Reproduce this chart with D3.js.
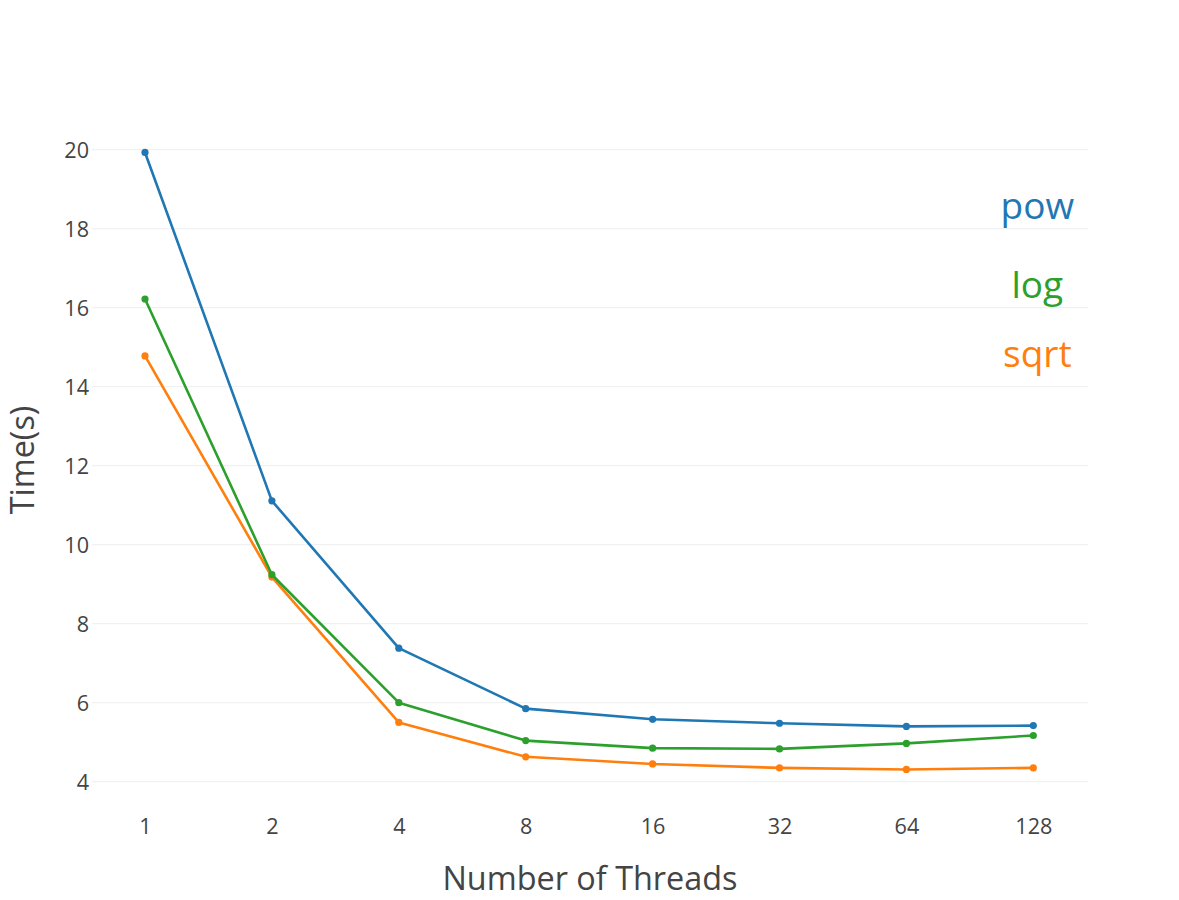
<!DOCTYPE html>
<html>
<head>
<meta charset="utf-8">
<script src="https://cdn.jsdelivr.net/npm/d3@7"></script>
<style>
  html, body { margin: 0; padding: 0; background: #fff; }
  svg { display: block; }
  text { font-family: "Open Sans", "DejaVu Sans", sans-serif; }
</style>
</head>
<body>
<svg id="chart" width="1179" height="900"></svg>
<script>
// ---- data ----
const threads = ["1", "2", "4", "8", "16", "32", "64", "128"];
const powTimes  = [19.93, 11.11, 7.38, 5.85, 5.58, 5.48, 5.40, 5.42];
const logTimes  = [16.22, 9.24, 6.00, 5.04, 4.85, 4.83, 4.97, 5.17];
const sqrtTimes = [14.78, 9.18, 5.50, 4.63, 4.45, 4.35, 4.31, 4.35];
const seriesNames = ["pow", "log", "sqrt"];
const yTicks = [4, 6, 8, 10, 12, 14, 16, 18, 20];
const xTitle = "Number of Threads";
const yTitle = "Time(s)";

// ---- layout ----
const colors = { pow: "#1f77b4", log: "#2ca02c", sqrt: "#ff7f0e" };
const plot = { left: 92, right: 1088 };
const labelY = { pow: 18.25, log: 16.24, sqrt: 14.5 }; // annotation baselines in data units

const svg = d3.select("#chart");
const x = d3.scalePoint().domain(threads).range([145, 1033.3]);
const y = d3.scaleLinear().domain([4, 20]).range([781.7, 149.7]);

// grid
svg.append("g").selectAll("line").data(yTicks).join("line")
  .attr("x1", plot.left).attr("x2", plot.right)
  .attr("y1", d => y(d)).attr("y2", d => y(d))
  .attr("stroke", "#eeeeee").attr("stroke-width", 1);

// y axis labels
const yAxis = d3.axisLeft(y).tickValues(yTicks).tickSize(0).tickPadding(0).tickFormat(d3.format("d"));
const gy = svg.append("g").attr("transform", `translate(89,0)`).call(yAxis);
gy.select(".domain").remove();
gy.selectAll("text").attr("fill", "#444").style("font-size", "21.6px")
  .style("font-family", '"Open Sans", sans-serif').attr("dy", "0.35em");

// x axis labels
const xAxis = d3.axisBottom(x).tickSize(0).tickPadding(0);
const gx = svg.append("g").attr("transform", `translate(0,834)`).call(xAxis);
gx.select(".domain").remove();
gx.selectAll("text").attr("fill", "#444").style("font-size", "21.6px")
  .style("font-family", '"Open Sans", sans-serif').attr("dy", "0").attr("y", 0);

// series
const series = [
  { name: "pow", values: powTimes },
  { name: "log", values: logTimes },
  { name: "sqrt", values: sqrtTimes }
];
const line = d3.line().x((d, i) => x(threads[i])).y(d => y(d));
series.slice().reverse().forEach(s => {
  svg.append("path").datum(s.values)
    .attr("d", line).attr("fill", "none")
    .attr("stroke", colors[s.name]).attr("stroke-width", 2.6)
    .attr("stroke-linejoin", "round");
  svg.append("g").selectAll("circle").data(s.values).join("circle")
    .attr("cx", (d, i) => x(threads[i])).attr("cy", d => y(d))
    .attr("r", 3.6).attr("fill", colors[s.name]);
});

// annotations (legend-like labels)
seriesNames.forEach(n => {
  svg.append("text")
    .attr("x", x("128") + 4).attr("y", y(labelY[n]))
    .attr("text-anchor", "middle")
    .attr("fill", colors[n]).style("font-size", "37px")
    .text(n);
});

// axis titles
svg.append("text").attr("x", (plot.left + plot.right) / 2).attr("y", 890)
  .attr("text-anchor", "middle").attr("fill", "#444").style("font-size", "32.4px")
  .text(xTitle);
svg.append("text").attr("transform", "translate(34,460) rotate(-90)")
  .attr("text-anchor", "middle").attr("fill", "#444").style("font-size", "32.4px")
  .text(yTitle);
</script>
</body>
</html>
